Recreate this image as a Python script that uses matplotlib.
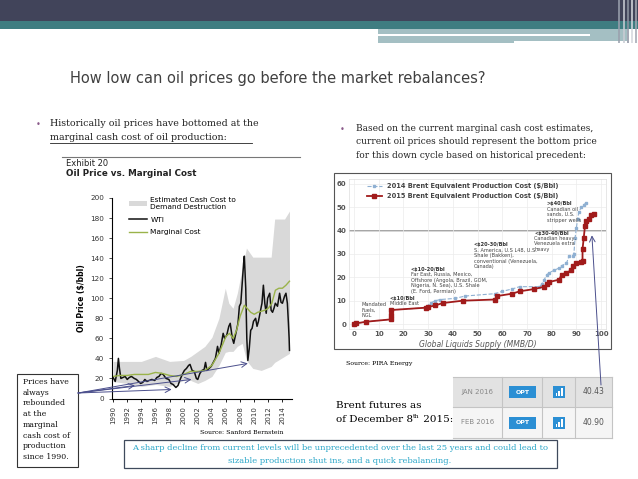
import matplotlib.pyplot as plt
from matplotlib.patches import Rectangle

W, H = 638, 479

# --- left chart: WTI vs marginal cost ---
wti_year = [1990.0, 1990.3, 1990.6, 1990.75, 1990.9, 1991.1, 1991.4, 1991.7, 1992.0, 1992.3,
            1992.6, 1993.0, 1993.3, 1993.6, 1993.9, 1994.2, 1994.5, 1994.8, 1995.1, 1995.5,
            1995.9, 1996.2, 1996.5, 1996.8, 1997.1, 1997.5, 1997.9, 1998.2, 1998.5, 1998.9,
            1999.2, 1999.5, 1999.8, 2000.1, 2000.4, 2000.7, 2000.9, 2001.2, 2001.5, 2001.8,
            2002.0, 2002.3, 2002.6, 2002.9, 2003.1, 2003.3, 2003.6, 2003.9, 2004.2, 2004.5,
            2004.8, 2005.0, 2005.3, 2005.6, 2005.8, 2006.1, 2006.4, 2006.6, 2006.9, 2007.1,
            2007.4, 2007.7, 2007.9, 2008.1, 2008.3, 2008.5, 2008.6, 2008.8, 2008.95, 2009.1,
            2009.3, 2009.5, 2009.7, 2009.9, 2010.2, 2010.4, 2010.6, 2010.9, 2011.1, 2011.3,
            2011.5, 2011.7, 2011.9, 2012.2, 2012.4, 2012.6, 2012.8, 2013.0, 2013.3, 2013.6,
            2013.8, 2014.0, 2014.3, 2014.5, 2014.7, 2014.85, 2014.95, 2015.0]
wti = [21, 17, 28, 40, 30, 20, 21, 22, 19, 21,
       22, 20, 19, 17, 15, 16, 19, 17, 18, 19,
       18, 21, 22, 25, 24, 20, 19, 15, 14, 11,
       13, 19, 24, 28, 30, 33, 34, 28, 27, 20,
       19, 25, 28, 29, 36, 28, 30, 32, 36, 40,
       52, 45, 53, 65, 60, 63, 72, 75, 60, 55,
       65, 75, 92, 95, 115, 135, 142, 110, 60, 38,
       50, 68, 70, 77, 80, 72, 77, 88, 95, 113,
       95, 85, 100, 105, 88, 86, 90, 95, 92, 105,
       96, 95, 102, 105, 95, 75, 60, 48]

mc_year = [1990, 1991, 1992, 1993, 1994, 1995, 1996, 1997, 1998, 1999, 2000, 2001, 2002,
           2003, 2004, 2005, 2006, 2006.5, 2007, 2007.5, 2008, 2008.6, 2009, 2009.5, 2010,
           2010.5, 2011, 2011.5, 2012, 2012.5, 2013, 2013.5, 2014, 2014.5, 2015]
marginal_cost = [22, 23, 23, 24, 24, 24, 26, 25, 23, 22, 24, 27, 27,
                 28, 33, 45, 62, 65, 60, 68, 82, 93, 90, 86, 84,
                 86, 87, 88, 90, 95, 108, 110, 110, 113, 117]

band_year = [1990, 1992, 1994, 1996, 1998, 2000, 2001, 2002, 2003, 2004, 2005, 2005.9,
             2006.4, 2007, 2007.6, 2008.3, 2008.9, 2009.8, 2011, 2012.4, 2012.9, 2014.3, 2015]
band_high = [37, 37, 37, 42, 37, 38, 42, 47, 52, 61, 80, 110,
             95, 90, 105, 130, 150, 141, 141, 141, 179, 179, 187]
band_low = [17, 15, 12, 14, 12, 18, 18, 15, 18, 22, 33, 46,
            47, 47, 52, 55, 38, 30, 28, 32, 36, 42, 45]
year_ticks = list(range(1990, 2015, 2))

# --- right chart: cost curve ---
supply_2014 = [0, 5, 15, 15, 29, 31, 33, 35, 41, 45, 57, 60, 64, 67, 75, 76, 77, 78, 79, 81,
               83, 84, 86, 87, 88.5, 89, 89.5, 90, 90.5, 91, 92, 93, 94]
cost_2014 = [0, 1, 2, 6, 7, 9, 10, 10.5, 11, 12, 13, 14, 15, 16, 16, 17, 19, 21, 22, 23,
             24, 25, 26, 29, 29, 30, 37, 41, 45, 48, 50, 51, 52]
supply_2015 = [0, 1, 5, 15, 15, 15, 29, 30, 33, 36, 44, 57, 58, 64, 67, 73, 77, 78, 79, 83,
               84, 86, 88, 88.5, 90, 92, 92.5, 92.5, 93, 93.5, 94, 95, 96, 97]
cost_2015 = [0, 0.3, 1, 2, 4, 6, 7, 7.3, 8, 9, 10, 10.5, 12, 13, 14, 15, 16, 17, 18, 19,
             21, 22, 23, 25, 26, 26.5, 27, 32, 37, 42, 44, 45, 46.5, 47]

futures_month = ["JAN 2016", "FEB 2016"]
futures_price = ["40.43", "40.90"]

serif = "DejaVu Serif"

fig = plt.figure(figsize=(W / 100, H / 100), dpi=100)

# background layer in pixel coords (origin top-left)
bg = fig.add_axes([0, 0, 1, 1])
bg.set_xlim(0, W)
bg.set_ylim(H, 0)
bg.axis("off")

# banner
bg.add_patch(Rectangle((0, 0), W, 21, color="#41445a", lw=0))
bg.add_patch(Rectangle((0, 21), W, 8, color="#3f7d81", lw=0))
bg.add_patch(Rectangle((378, 29), 249, 14, color="#a4bfc3", lw=0))
bg.add_patch(Rectangle((378, 33.5), 212, 2, color="white", lw=0))
bg.add_patch(Rectangle((514, 41), 113, 2, color="white", lw=0))
for sx, c in [(618, "#9aa0ad"), (623, "#c9ccd4"), (627, "#8d93a1"), (631, "#d5d8de"), (635, "#a3a8b3")]:
    bg.add_patch(Rectangle((sx, 0), 2, 43, color=c, lw=0, alpha=0.8))

bg.text(70, 78, "How low can oil prices go before the market rebalances?",
        fontsize=10.5, color="#404040", va="center", ha="left", family="DejaVu Sans")

# bullets
bg.text(36, 124, "\u2022", fontsize=6, color="#8a5a8a", va="center")
bg.text(50, 123, "Historically oil prices have bottomed at the", fontsize=6.8,
        family=serif, va="center", color="#222222")
bg.text(50, 137, "marginal cash cost of oil production:", fontsize=6.8,
        family=serif, va="center", color="#222222")
bg.plot([50, 252], [142.5, 142.5], color="#222222", lw=0.6)

bg.text(340, 129, "\u2022", fontsize=6, color="#8a5a8a", va="center")
for i, line in enumerate(["Based on the current marginal cash cost estimates,",
                          "current oil prices should represent the bottom price",
                          "for this down cycle based on historical precedent:"]):
    bg.text(356, 128 + 14 * i, line, fontsize=6.5, family=serif, va="center", color="#222222")

# left chart header
bg.plot([62, 300], [157, 157], color="#777777", lw=0.8)
bg.text(66, 163, "Exhibit 20", fontsize=6, color="#222222", va="center")
bg.text(66, 174, "Oil Price vs. Marginal Cost", fontsize=6.3, fontweight="bold",
        color="#222222", va="center")
bg.text(200, 433, "Source: Sanford Bernstein", fontsize=4.5, family=serif, va="center")

# callout box
bg.add_patch(Rectangle((17, 374), 61, 93, fill=False, ec="#333333", lw=0.8))
bg.text(23, 378, "Prices have\nalways\nrebounded\nat the\nmarginal\ncash cost of\nproduction\nsince 1990.",
        fontsize=5.6, family=serif, va="top", linespacing=1.45, color="#111111")

# right chart frame
bg.add_patch(Rectangle((334, 173), 277, 176, fill=False, ec="#555555", lw=0.8))
bg.text(346, 363, "Source: PIRA Energy", fontsize=4.5, family=serif, va="center")

bg.text(336, 405, "Brent futures as", fontsize=7.5, family=serif, va="center")
t8 = bg.text(336, 419, "of December 8", fontsize=7.5, family=serif, va="center")
sup = bg.annotate("th", xy=(1, 0.55), xycoords=t8, fontsize=4.5, family=serif, va="bottom")
bg.annotate(" 2015:", xy=(1, 0), xycoords=(sup, t8), fontsize=7.5, family=serif, va="bottom")

# futures table
col_x = [453, 502, 542, 575, 612]
row_y = [377, 407, 438]
row_bg = ["#e2e2e2", "#f5f5f5"]
for r in range(2):
    bg.add_patch(Rectangle((col_x[0], row_y[r]), col_x[-1] - col_x[0], row_y[r + 1] - row_y[r],
                           color=row_bg[r], lw=0))
    cy = (row_y[r] + row_y[r + 1]) / 2
    bg.text((col_x[0] + col_x[1]) / 2, cy, futures_month[r], fontsize=5, color="#888888",
            ha="center", va="center")
    bg.add_patch(Rectangle((509, cy - 6), 27, 12, color="#2b8fd4", lw=0))
    bg.text(522.5, cy, "OPT", fontsize=4.5, color="white", fontweight="bold", ha="center", va="center")
    bg.add_patch(Rectangle((553, cy - 6), 12, 12, color="#2b8fd4", lw=0))
    for k, bh in enumerate([3, 5, 8]):
        bg.add_patch(Rectangle((555.5 + k * 2.6, cy + 4 - bh), 1.8, bh, color="white", lw=0))
    bg.text((col_x[3] + col_x[4]) / 2, cy, futures_price[r], fontsize=5.5, color="#555555",
            ha="center", va="center")
for yy in row_y:
    bg.plot([col_x[0], col_x[-1]], [yy, yy], color="#c4c4c4", lw=0.8)
for xx in col_x[1:]:
    bg.plot([xx, xx], [row_y[0], row_y[-1]], color="#c4c4c4", lw=0.8)

# bottom message box
bg.add_patch(Rectangle((124, 440), 433, 28, fill=False, ec="#3f4a5c", lw=0.9))
bg.text(340, 448, "A sharp decline from current levels will be unprecedented over the last 25 years and could lead to",
        fontsize=6, family=serif, color="#2aa6c8", ha="center", va="center")
bg.text(340, 461, "sizable production shut ins, and a quick rebalancing.",
        fontsize=6, family=serif, color="#2aa6c8", ha="center", va="center")


def rect(x0, y0, x1, y1):
    return [x0 / W, 1 - y1 / H, (x1 - x0) / W, (y1 - y0) / H]


# ---------- left chart ----------
ax = fig.add_axes(rect(111.7, 198, 291.6, 398.5))
ax.set_facecolor("none")
band = ax.fill_between(band_year, band_low, band_high, color="#d9d9d9", lw=0,
                       label="Estimated Cash Cost to\nDemand Destruction")
l_wti, = ax.plot(wti_year, wti, color="#111111", lw=1.1, label="WTI")
l_mc, = ax.plot(mc_year, marginal_cost, color="#9ab34a", lw=1.0, label="Marginal Cost")
ax.set_xlim(1989.8, 2015.3)
ax.set_ylim(0, 200)
ax.set_xticks(year_ticks)
ax.set_xticklabels([str(y) for y in year_ticks], rotation=90, fontsize=5, color="#333333")
ax.set_yticks(range(0, 201, 20))
ax.tick_params(axis="y", labelsize=5.2, colors="#333333", length=2, width=0.6)
ax.tick_params(axis="x", length=2, width=0.6)
for s in ["top", "right"]:
    ax.spines[s].set_visible(False)
for s in ["left", "bottom"]:
    ax.spines[s].set_linewidth(0.8)
ax.set_ylabel("Oil Price ($/bbl)", fontsize=5.5, fontweight="bold", labelpad=3)
ax.legend(handles=[band, l_wti, l_mc], loc="upper left", bbox_to_anchor=(0.08, 1.02),
          frameon=False, fontsize=5.3, handlelength=2.4, labelspacing=0.9,
          handletextpad=0.5, borderaxespad=0)

# arrows from the callout box to the cost floor
for tx, ty in [(1993.1, 13), (1998.3, 9), (2001.1, 19), (2009.1, 35)]:
    ax.annotate("", xy=(tx, ty), xytext=(78, H - 393), textcoords="figure pixels",
                arrowprops=dict(arrowstyle="->", color="#4b4f8c", lw=0.7,
                                shrinkA=0, shrinkB=0),
                annotation_clip=False)

# ---------- right chart ----------
ax2 = fig.add_axes(rect(349, 179.3, 606, 328.7))
ax2.set_xlim(-2, 102)
ax2.set_ylim(-2, 62)
ax2.grid(True, color="#ececec", lw=0.5)
ax2.axhline(40, color="#a5a5a5", lw=1.4, zorder=1)
ax2.plot(supply_2014, cost_2014, color="#8fb0d2", lw=0.8, ls="--", marker="s", ms=2,
         label="2014 Brent Equivalent Production Cost ($/Bbl)", zorder=2)
ax2.plot(supply_2015, cost_2015, color="#a11b1b", lw=1.3, marker="s", ms=2.3,
         label="2015 Brent Equivalent Production Cost ($/Bbl)", zorder=3)
ax2.set_xticks(range(0, 101, 10))
ax2.set_yticks(range(0, 61, 10))
ax2.tick_params(labelsize=5, colors="#555555", length=0, pad=2)
for lab in ax2.get_xticklabels() + ax2.get_yticklabels():
    lab.set_fontweight("bold")
for s in ax2.spines.values():
    s.set_color("#dddddd")
    s.set_linewidth(0.5)
ax2.set_xlabel("Global Liquids Supply (MMB/D)", fontsize=5.5, style="italic", color="#555555",
               labelpad=2)
leg2 = ax2.legend(loc="upper left", bbox_to_anchor=(0.06, 0.99), frameon=False, fontsize=4.8,
                  handlelength=2.2, labelspacing=0.6, borderaxespad=0)
for txt in leg2.get_texts():
    txt.set_fontweight("bold")
    txt.set_color("#444444")

notes = [
    (3, 9.5, None, "Mandated\nFuels,\nNGL"),
    (14.5, 12, "<$10/Bbl", "Middle East"),
    (23, 24.5, "<$10-20/Bbl", "Far East, Russia, Mexico,\nOffshore (Angola, Brazil, GOM,\nNigeria, N. Sea), U.S. Shale\n(E. Ford, Permian)"),
    (48.5, 35, "<$20-30/Bbl", "S. America, U.S L48, U.S.\nShale (Bakken),\nconventional (Venezuela,\nCanada)"),
    (73, 40, "<$30-40/Bbl", "Canadian heavy,\nVenezuela extra\nheavy"),
    (78, 52.5, ">$40/Bbl", "Canadian oil\nsands, U.S.\nstripper wells"),
]
for nx, ny, head, body in notes:
    if head:
        ax2.text(nx, ny, head, fontsize=3.6, fontweight="bold", color="#333333", va="top")
        ax2.text(nx, ny - 2.2, body, fontsize=3.6, color="#444444", va="top", linespacing=1.15)
    else:
        ax2.text(nx, ny, body, fontsize=3.6, color="#444444", va="top", linespacing=1.15)

ax2.annotate("", xy=(96.3, 38), xytext=(601, H - 385), textcoords="figure pixels",
             arrowprops=dict(arrowstyle="->", color="#4b4f8c", lw=0.7, shrinkA=0, shrinkB=0),
             annotation_clip=False)

fig.savefig("out.png", dpi=100)
